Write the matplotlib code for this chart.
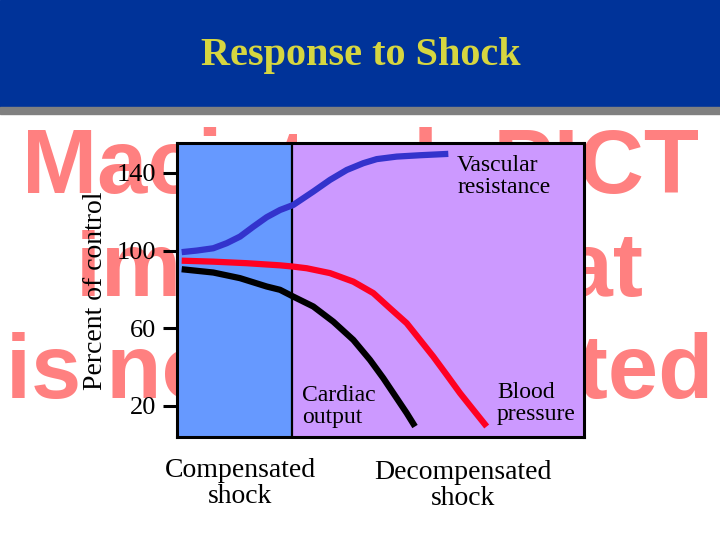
import matplotlib
matplotlib.use('Agg')
import matplotlib.pyplot as plt
from matplotlib.patches import Rectangle

# Dados (percentual do controle ao longo do tempo, 0-100)
tempo_vascular = [1.15, 4.84, 8.92, 12.21, 15.48, 18.75, 22.04, 25.31, 28.57, 33.49,
                  37.59, 41.70, 45.77, 49.07, 53.98, 59.71, 66.66]
vascular = [99.2, 100.0, 101.2, 103.8, 107.2, 112.3, 117.2, 120.9, 123.5, 130.4,
            136.4, 141.5, 145.0, 147.1, 148.4, 149.1, 149.8]

tempo_pressao = [1.15, 8.92, 17.13, 25.31, 28.33, 31.87, 37.59, 43.32, 48.23, 52.33,
                 56.44, 59.71, 62.97, 66.27, 69.53, 72.80, 76.09]
pressao = [94.8, 94.3, 93.5, 92.4, 91.8, 90.9, 88.4, 84.0, 78.1, 70.3,
           62.6, 54.0, 45.4, 36.0, 26.6, 18.0, 9.4]

tempo_debito = [1.15, 8.92, 15.48, 22.04, 25.31, 28.57, 33.49, 38.40, 43.32, 47.42,
                50.69, 53.98, 56.44, 58.48]
debito = [90.4, 88.7, 85.8, 81.5, 79.8, 76.3, 71.2, 63.4, 54.0, 43.7,
          34.3, 24.0, 16.3, 9.4]

yticks = [20, 60, 100, 140]
limite_compensado = 28.3

W, H = 720, 540


def px(x, y):
    # pixels da imagem -> fracao da figura
    return x / W, 1 - y / H


fig = plt.figure(figsize=(7.2, 5.4), dpi=100)
serif = 'Liberation Serif'

# Cabecalho azul com faixa cinza
fig.patches.append(Rectangle(px(0, 107), 1, 107 / H, transform=fig.transFigure,
                             color='#003399', zorder=-2))
fig.patches.append(Rectangle(px(0, 114), 1, 7 / H, transform=fig.transFigure,
                             color='#808080', zorder=-2))
fig.text(*px(361, 65), 'Response to Shock', ha='center', va='baseline',
         fontsize=29, fontweight='bold', family=serif, color='#D6D640')

# Marca d'agua (imagem PICT nao suportada)
for linha, yb in zip(['Macintosh PICT', 'image format', 'is not supported'], [193, 296, 398]):
    fig.text(*px(360, yb), linha, ha='center', va='baseline', fontsize=65,
             fontweight='bold', family='Liberation Sans', color='#FF8080', zorder=-1)

# Grafico
x0, y0 = px(177, 437)
ax = fig.add_axes([x0, y0, 407 / W, 294 / H])
ax.set_xlim(0, 100)
ax.set_ylim(4, 155.4)
ax.axvspan(0, limite_compensado, color='#6699FF', zorder=0)
ax.axvspan(limite_compensado, 100, color='#CC99FF', zorder=0)
ax.axvline(limite_compensado, color='black', linewidth=1.6, zorder=1)

estilo = dict(linewidth=4.5, solid_capstyle='butt', solid_joinstyle='round', zorder=3)
ax.plot(tempo_vascular, vascular, color='#3333CC', **estilo)
ax.plot(tempo_pressao, pressao, color='#FF0022', **estilo)
ax.plot(tempo_debito, debito, color='black', **estilo)

ax.set_xticks([])
ax.set_yticks(yticks)
ax.set_yticklabels([str(v) for v in yticks], fontsize=19, family=serif)
ax.tick_params(axis='y', length=10, width=2.2, pad=5, direction='out')
for s in ax.spines.values():
    s.set_linewidth(2.2)

fig.text(*px(96, 291), 'Percent of control', rotation=90, ha='center', va='center',
         fontsize=20, family=serif)

# Rotulos das curvas (va='baseline' usa a linha de base da ultima linha)
fig.text(*px(457, 193), 'Vascular\nresistance', ha='left', va='baseline',
         fontsize=17, family=serif, linespacing=1.05)
fig.text(*px(302, 423), 'Cardiac\noutput', ha='left', va='baseline',
         fontsize=17, family=serif, linespacing=1.05)
fig.text(*px(497, 420), 'Blood\npressure', ha='left', va='baseline',
         fontsize=17, family=serif, linespacing=1.05)

fig.text(*px(240, 503), 'Compensated\nshock', ha='center', va='baseline',
         fontsize=20, family=serif, linespacing=1.05)
fig.text(*px(463, 505), 'Decompensated\nshock', ha='center', va='baseline',
         fontsize=20, family=serif, linespacing=1.05)

fig.savefig('out.png', dpi=100)
